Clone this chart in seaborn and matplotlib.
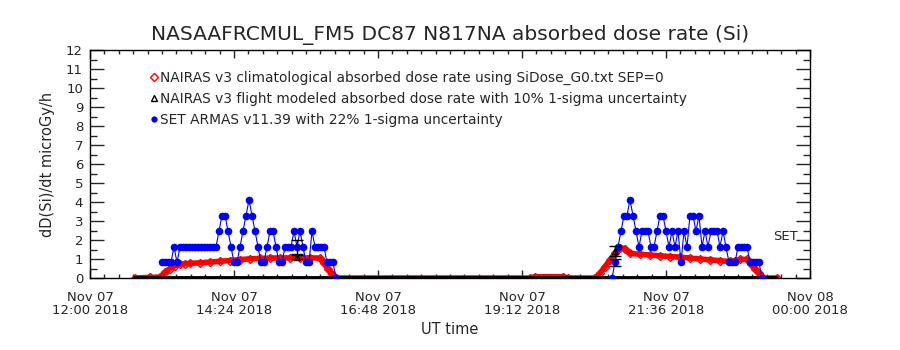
import numpy as np
import pandas as pd
import seaborn as sns
import matplotlib
matplotlib.use("Agg")
from matplotlib import pyplot as plt
from matplotlib.lines import Line2D

sns.set_style("ticks")
plt.rcParams['font.family'] = ['DejaVu Sans']

t_start = pd.Timestamp("2018-11-07 12:00")
t_end = pd.Timestamp("2018-11-08 00:00")

# NAIRAS climatological dose rate, minutes after 12:00 UT
red_min = [45, 60, 70, 75, 80, 85, 90, 95, 100, 110,
           120, 130, 140, 150, 160, 170, 180, 190, 200, 210,
           220, 230, 234, 238, 242, 246, 440, 445, 473, 478,
           505, 510, 515, 520, 525, 530, 535, 540, 550, 560,
           570, 580, 590, 600, 610, 620, 630, 640, 645, 650,
           657, 661, 665, 669, 673, 687]
red_val = [0.0, 0.03, 0.05, 0.3, 0.5, 0.65, 0.72, 0.75, 0.77, 0.8,
           0.84, 0.88, 0.92, 0.97, 1.01, 1.03, 1.05, 1.06, 1.06, 1.06,
           1.06, 1.05, 0.8, 0.5, 0.2, 0.0, 0.0, 0.07, 0.07, 0.0,
           0.0, 0.25, 0.6, 0.95, 1.3, 1.6, 1.55, 1.3, 1.25, 1.21,
           1.17, 1.13, 1.1, 1.05, 1.0, 0.96, 0.91, 0.87, 0.92, 0.98,
           0.98, 0.75, 0.5, 0.25, 0.0, 0.0]

# SET ARMAS measurements, 3 minute samples
blue_step = "3min"
blue_f1_start = "2018-11-07 13:12"
blue_f1 = [0.82, 0.82, 0.82, 0.82, 1.64, 0.82, 1.64, 1.64, 1.64, 1.64,
           1.64, 1.64, 1.64, 1.64, 1.64, 1.64, 1.64, 1.64, 1.64, 2.47,
           3.29, 3.29, 2.47, 1.64, 0.82, 0.82, 1.64, 2.47, 3.29, 4.11,
           3.29, 2.47, 1.64, 0.82, 0.82, 1.64, 2.47, 2.47, 1.64, 0.82,
           0.82, 1.64, 1.64, 1.64, 2.47, 1.64, 2.47, 1.64, 0.82, 0.82,
           2.47, 1.64, 1.64, 1.64, 1.64, 0.82, 0.82, 0.82, 0.0]
blue_f2_start = "2018-11-07 20:42"
blue_f2 = [0.0, 0.82, 1.64, 2.47, 3.29, 3.29, 4.11, 3.29, 2.47, 1.64,
           2.47, 2.47, 2.47, 1.64, 1.64, 2.47, 3.29, 3.29, 2.47, 1.64,
           2.47, 1.64, 2.47, 0.82, 2.47, 1.64, 3.29, 3.29, 2.47, 3.29,
           1.64, 2.47, 1.64, 2.47, 2.47, 2.47, 1.64, 2.47, 1.64, 0.82,
           0.82, 0.82, 1.64, 1.64, 1.64, 1.64, 0.82, 0.82, 0.82, 0.82,
           0.0]

# NAIRAS flight model: zero over the span, plus two comparison points
black_zero_span = ["2018-11-07 12:43", "2018-11-07 23:27"]
black_pt_time = ["2018-11-07 15:27", "2018-11-07 20:45"]
black_pt_val = [1.1, 1.42]
black_pt_err = [0.11, 0.27]
blue_err_val = [1.64, 0.82]
blue_err = [0.36, 0.18]

labels = ["NAIRAS v3 climatological absorbed dose rate using SiDose_G0.txt SEP=0",
          "NAIRAS v3 flight modeled absorbed dose rate with 10% 1-sigma uncertainty",
          "SET ARMAS v11.39 with 22% 1-sigma uncertainty"]

red_t = t_start + pd.to_timedelta(red_min, unit="min")
f1_t = pd.date_range(blue_f1_start, periods=len(blue_f1), freq=blue_step)
f2_t = pd.date_range(blue_f2_start, periods=len(blue_f2), freq=blue_step)
zero_t = pd.to_datetime(black_zero_span)
pt_t = pd.to_datetime(black_pt_time)

fig = plt.figure(figsize=(9, 3.5), dpi=100)
ax = fig.add_axes([0.1, 0.2057, 0.8, 0.651])

sns.lineplot(x=red_t, y=red_val, ax=ax, color="red", lw=4, marker="D",
             markersize=4, markerfacecolor="none", markeredgecolor="red",
             markeredgewidth=1, estimator=None, sort=False, zorder=2)
ax.plot(zero_t, [0, 0], color="black", lw=3.5, solid_capstyle="butt", zorder=2.5)
for tt, vv in [(f1_t, blue_f1), (f2_t, blue_f2)]:
    sns.lineplot(x=tt, y=vv, ax=ax, color="blue", lw=0.8, marker="o",
                 markersize=5.5, markeredgewidth=0, estimator=None,
                 sort=False, zorder=3)

ax.errorbar(pt_t, blue_err_val, yerr=blue_err, fmt="none", ecolor="black",
            elinewidth=1, capsize=4, zorder=4)
ax.errorbar(pt_t, black_pt_val, yerr=black_pt_err, fmt="^", color="black",
            mfc="none", ms=4, elinewidth=1, capsize=4, zorder=5)

ax.text(pd.Timestamp("2018-11-07 23:23"), 2.17, "SET", fontsize=9.5,
        ha="left", va="center")

ax.set_xlim(t_start, t_end)
ax.set_ylim(0, 12)
ax.set_xticks(pd.date_range(t_start, t_end, freq="144min"))
ax.set_xticks(pd.date_range(t_start, t_end, freq="864s"), minor=True)
ax.set_xticklabels([t.strftime("%b %d\n%H:%M %Y") for t in
                    pd.date_range(t_start, t_end, freq="144min")],
                   linespacing=1.0)
ax.set_yticks(np.arange(0, 13, 1))
ax.set_yticks(np.arange(0, 12.5, 0.5), minor=True)

ax.tick_params(axis="y", which="major", direction="in", length=10, width=1,
               left=True, right=True, labelsize=9.5, pad=5)
ax.tick_params(axis="y", which="minor", direction="in", length=5, width=1,
               left=True, right=True)
ax.tick_params(axis="x", which="major", direction="in", length=6, width=1,
               top=True, bottom=True, labelsize=9.5, pad=9)
ax.tick_params(axis="x", which="minor", direction="in", length=3, width=1,
               top=True, bottom=True)
for s in ax.spines.values():
    s.set_visible(True)
    s.set_linewidth(1)
    s.set_color("black")

ax.set_title("NASAAFRCMUL_FM5 DC87 N817NA absorbed dose rate (Si)",
             fontsize=14.5, pad=7)
ax.set_xlabel("UT time", fontsize=10.5, labelpad=4)
ax.set_ylabel("dD(Si)/dt microGy/h", fontsize=10.5, labelpad=8)

handles = [Line2D([], [], ls="none", marker="D", ms=4, mfc="none", mec="red", mew=1),
           Line2D([], [], ls="none", marker="^", ms=4.5, mfc="none", mec="black", mew=1),
           Line2D([], [], ls="none", marker="o", ms=4.5, color="blue", mew=0)]
ax.legend(handles, labels, loc="upper left", bbox_to_anchor=(0.083, 0.91),
          frameon=False, fontsize=9.9, handlelength=0.6, handletextpad=0.15,
          labelspacing=0.5, borderpad=0, borderaxespad=0)

fig.savefig("out.png", dpi=100)
